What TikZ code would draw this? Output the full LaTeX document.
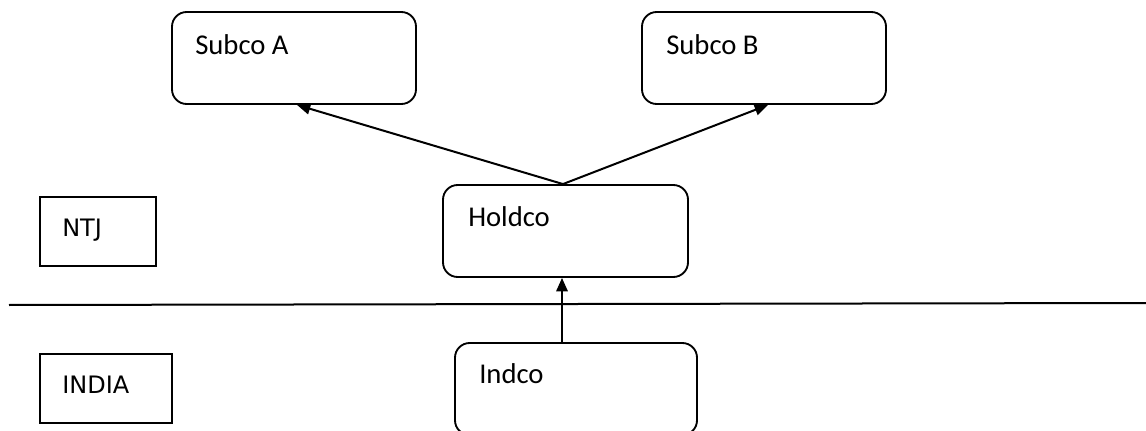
\documentclass[tikz,border=0pt]{standalone}
\usepackage{fontspec}
\setmainfont{Carlito}
\newfontfamily\dejavu{DejaVu Sans}
\usetikzlibrary{arrows.meta}
\begin{document}
\begin{tikzpicture}[x=0.75pt,y=-0.75pt,
  rbox/.style={draw,line width=1.4pt,rounded corners=11pt,inner sep=0pt,minimum height=69pt},
  sbox/.style={draw,line width=1.4pt,inner sep=0pt,minimum height=51.75pt},
  lbl/.style={anchor=base west,inner sep=0pt,font=\fontsize{21.5pt}{24pt}\selectfont},
  slbl/.style={anchor=base west,inner sep=0pt,font=\dejavu\fontsize{18pt}{21pt}\selectfont},
  arr/.style={line width=1.5pt,-{Triangle[length=10pt,width=8.5pt]}}]
\useasboundingbox (0,0) rectangle (1146,431);
\node[rbox,minimum width=183pt] (subA) at (294,58) {};
\node[lbl] (tA) at (195,55) {Subco A};
\node[rbox,minimum width=183pt] (subB) at (764,58) {};
\node[lbl] (tB) at (666,55) {Subco B};
\node[rbox,minimum width=183.75pt] (hold) at (565.5,231) {};
\node[lbl] (tH) at (468,227) {Holdco};
\node[rbox,minimum width=181.5pt] (ind) at (576,389) {};
\node[lbl] (tI) at (479,383) {Indco};
\node[sbox,minimum width=87pt] (ntj) at (98,231.5) {};
\node[slbl] (tN) at (62,236) {NTJ};
\node[sbox,minimum width=99pt] (india) at (106,388.5) {};
\node[slbl] (tX) at (62,393) {INDIA};
\coordinate (lineL) at (9,305);
\coordinate (lineR) at (1146,303);
\draw[line width=1.5pt] (lineL) -- (lineR);
\draw[arr] ([xshift=-1.9pt]hold.north) -- ([xshift=2.25pt]subA.south);
\draw[arr] ([xshift=-1.9pt]hold.north) -- ([xshift=3pt]subB.south);
\draw[arr] ([xshift=-10.5pt]ind.north) -- ([xshift=-10.5pt]ind.north |- hold.south);
\end{tikzpicture}
\end{document}
